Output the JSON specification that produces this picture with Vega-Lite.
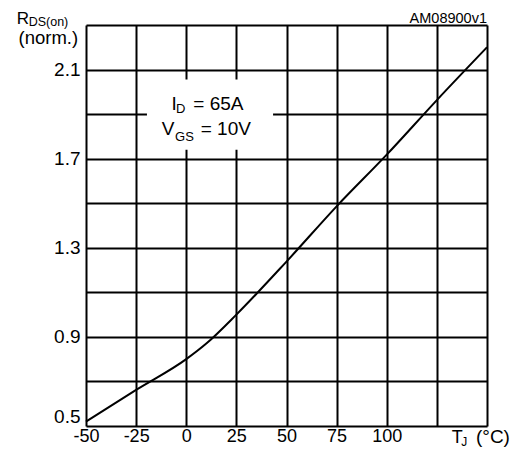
{
  "$schema": "https://vega.github.io/schema/vega-lite/v6.json",
  "width": 401,
  "height": 401,
  "autosize": "none",
  "padding": {"left": 86, "top": 25, "right": 37, "bottom": 29},
  "background": "white",
  "config": {
    "view": {"stroke": null},
    "font": "Liberation Sans",
    "text": {"font": "Liberation Sans", "color": "black"}
  },
  "layer": [
    {
      "data": {"values": [{}]},
      "mark": {"type": "rect", "fill": "white", "opacity": 1},
      "encoding": {
        "x": {"datum": -19.6, "type": "quantitative"},
        "x2": {"datum": 43.3},
        "y": {"datum": 1.74, "type": "quantitative"},
        "y2": {"datum": 2.055}
      }
    },
    {
      "data": {
        "values": [
          {"tj": -50, "rds": 0.52},
          {"tj": -25, "rds": 0.662},
          {"tj": 0, "rds": 0.8},
          {"tj": 10, "rds": 0.87},
          {"tj": 25, "rds": 1.0},
          {"tj": 50, "rds": 1.238},
          {"tj": 75, "rds": 1.486},
          {"tj": 100, "rds": 1.718},
          {"tj": 125, "rds": 1.963},
          {"tj": 150, "rds": 2.2}
        ]
      },
      "mark": {"type": "line", "color": "black", "strokeWidth": 2, "interpolate": "monotone"},
      "encoding": {
        "x": {
          "field": "tj",
          "type": "quantitative",
          "scale": {"domain": [-50, 150], "nice": false, "zero": false},
          "axis": {
            "values": [-50, -25, 0, 25, 50, 75, 100, 125, 150],
            "labelExpr": "datum.value <= 100 ? toString(datum.value) : ''",
            "title": null,
            "grid": true,
            "gridColor": "black",
            "gridWidth": 2,
            "gridOpacity": 1,
            "domain": false,
            "ticks": false,
            "labelFont": "Liberation Sans",
            "labelFontSize": 18,
            "labelColor": "black",
            "labelPadding": 1,
            "labelDx": 4,
            "labelFlush": false,
            "labelOverlap": false
          }
        },
        "y": {
          "field": "rds",
          "type": "quantitative",
          "scale": {"domain": [0.5, 2.3], "nice": false, "zero": false},
          "axis": {
            "values": [0.5, 0.7, 0.9, 1.1, 1.3, 1.5, 1.7, 1.9, 2.1, 2.3],
            "format": ".1f",
            "labelExpr": "indexof(['0.5', '0.9', '1.3', '1.7', '2.1'], datum.label) >= 0 ? datum.label : ''",
            "labelBaseline": {"condition": {"test": "datum.value < 0.6", "value": "bottom"}, "value": "middle"},
            "title": null,
            "grid": true,
            "gridColor": "black",
            "gridWidth": 2,
            "gridOpacity": 1,
            "domain": false,
            "ticks": false,
            "labelFont": "Liberation Sans",
            "labelFontSize": 19,
            "labelColor": "black",
            "labelPadding": 6,
            "labelFlush": false,
            "labelOverlap": false
          }
        }
      }
    },
    {
      "data": {"values": [{}]},
      "mark": {"type": "text", "text": "I", "fontSize": 19, "align": "left", "baseline": "alphabetic"},
      "encoding": {
        "x": {"datum": -7.3, "type": "quantitative"},
        "y": {"datum": 1.918, "type": "quantitative"}
      }
    },
    {
      "data": {"values": [{}]},
      "mark": {"type": "text", "text": "D", "fontSize": 13, "align": "left", "baseline": "alphabetic"},
      "encoding": {
        "x": {"datum": -5.1, "type": "quantitative"},
        "y": {"datum": 1.903, "type": "quantitative"}
      }
    },
    {
      "data": {"values": [{}]},
      "mark": {"type": "text", "text": "= 65A", "fontSize": 19, "align": "left", "baseline": "alphabetic"},
      "encoding": {
        "x": {"datum": 3.5, "type": "quantitative"},
        "y": {"datum": 1.918, "type": "quantitative"}
      }
    },
    {
      "data": {"values": [{}]},
      "mark": {"type": "text", "text": "V", "fontSize": 19, "align": "left", "baseline": "alphabetic"},
      "encoding": {
        "x": {"datum": -12.2, "type": "quantitative"},
        "y": {"datum": 1.806, "type": "quantitative"}
      }
    },
    {
      "data": {"values": [{}]},
      "mark": {"type": "text", "text": "GS", "fontSize": 13, "align": "left", "baseline": "alphabetic"},
      "encoding": {
        "x": {"datum": -5.6, "type": "quantitative"},
        "y": {"datum": 1.781, "type": "quantitative"}
      }
    },
    {
      "data": {"values": [{}]},
      "mark": {"type": "text", "text": "= 10V", "fontSize": 19, "align": "left", "baseline": "alphabetic"},
      "encoding": {
        "x": {"datum": 7.2, "type": "quantitative"},
        "y": {"datum": 1.806, "type": "quantitative"}
      }
    },
    {
      "data": {"values": [{}]},
      "mark": {"type": "text", "text": "R", "fontSize": 17, "align": "left", "baseline": "alphabetic"},
      "encoding": {
        "x": {"datum": -84.6, "type": "quantitative"},
        "y": {"datum": 2.304, "type": "quantitative"}
      }
    },
    {
      "data": {"values": [{}]},
      "mark": {"type": "text", "text": "DS(on)", "fontSize": 12.5, "align": "left", "baseline": "alphabetic"},
      "encoding": {
        "x": {"datum": -78.6, "type": "quantitative"},
        "y": {"datum": 2.295, "type": "quantitative"}
      }
    },
    {
      "data": {"values": [{}]},
      "mark": {"type": "text", "text": "(norm.)", "fontSize": 18.5, "align": "center", "baseline": "alphabetic"},
      "encoding": {
        "x": {"datum": -68.8, "type": "quantitative"},
        "y": {"datum": 2.213, "type": "quantitative"}
      }
    },
    {
      "data": {"values": [{}]},
      "mark": {"type": "text", "text": "AM08900v1", "fontSize": 14.5, "align": "right", "baseline": "alphabetic"},
      "encoding": {
        "x": {"datum": 150, "type": "quantitative"},
        "y": {"datum": 2.309, "type": "quantitative"}
      }
    },
    {
      "data": {"values": [{}]},
      "mark": {"type": "text", "text": "T", "fontSize": 18, "align": "left", "baseline": "alphabetic"},
      "encoding": {
        "x": {"datum": 132.4, "type": "quantitative"},
        "y": {"datum": 0.424, "type": "quantitative"}
      }
    },
    {
      "data": {"values": [{}]},
      "mark": {"type": "text", "text": "J", "fontSize": 12, "align": "left", "baseline": "alphabetic"},
      "encoding": {
        "x": {"datum": 137.2, "type": "quantitative"},
        "y": {"datum": 0.41, "type": "quantitative"}
      }
    },
    {
      "data": {"values": [{}]},
      "mark": {"type": "text", "text": "(°C)", "fontSize": 19, "align": "left", "baseline": "alphabetic"},
      "encoding": {
        "x": {"datum": 144.5, "type": "quantitative"},
        "y": {"datum": 0.424, "type": "quantitative"}
      }
    }
  ]
}
